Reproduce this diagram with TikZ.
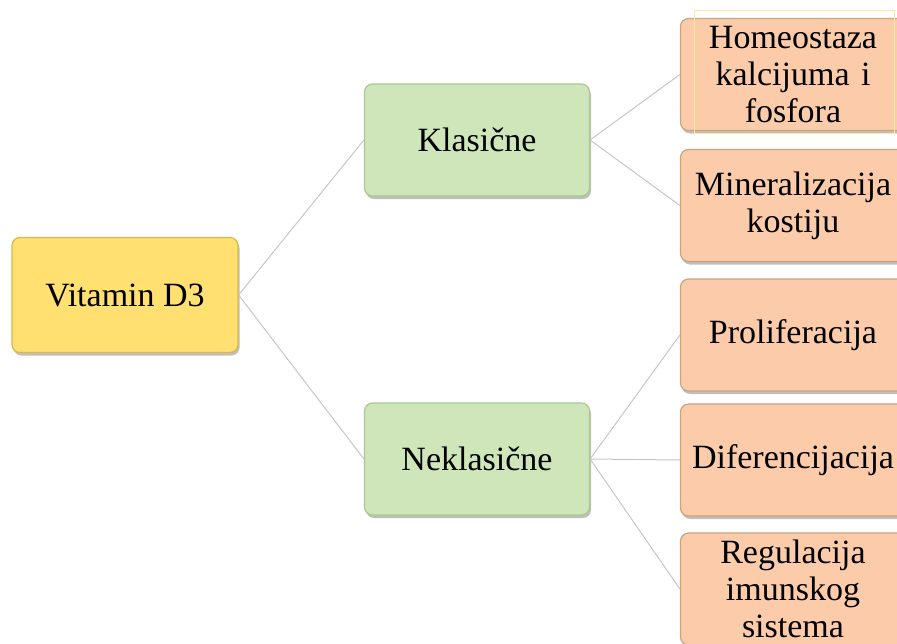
\documentclass[tikz,border=0pt]{standalone}
\usepackage{fontspec}
\setmainfont{Liberation Serif}
\usetikzlibrary{shadows}
\definecolor{zuta}{HTML}{FFE071}
\definecolor{zutarub}{HTML}{D9B84A}
\definecolor{zelena}{HTML}{CEE6BA}
\definecolor{zelenarub}{HTML}{A9C98F}
\definecolor{narandz}{HTML}{FCCCAA}
\definecolor{narandzrub}{HTML}{C9A47E}
\definecolor{veza}{HTML}{C6C6C6}
\definecolor{okvir}{HTML}{FFE9A0}
\begin{document}
\begin{tikzpicture}[x=1pt,y=-1pt,
	kutija/.style={rounded corners=8pt,line width=1.2pt,minimum width=225pt,minimum height=112pt,
		align=center,inner sep=2pt,font=\fontsize{34}{37}\selectfont,
		drop shadow={shadow xshift=1.5pt,shadow yshift=-3pt,fill=black,opacity=0.25}},
	koren/.style={kutija,draw=zutarub,fill=zuta,minimum width=226pt,minimum height=115pt},
	grana/.style={kutija,draw=zelenarub,fill=zelena},
	list/.style={kutija,draw=narandzrub,fill=narandz,text width=220pt},
	veza/.style={draw=veza,line width=1pt}]
	\path[use as bounding box,clip] (0,0) rectangle (897,643);
	% cvorovi
	\node[koren] (vd) at (125,295) {Vitamin D3};
	\node[grana] (kl) at (477,140) {Klasi\v{c}ne};
	\node[grana] (nk) at (477,459) {Neklasi\v{c}ne};
	\node[list] (ho) at (793,74.5) {Homeostaza\\kalcijuma i\\fosfora};
	\node[list] (mi) at (793,205.5) {Mineralizacija\\kostiju};
	\node[list] (pr) at (793,335) {Proliferacija};
	\node[list] (di) at (793,460) {Diferencijacija};
	\node[list] (re) at (793,589) {Regulacija\\imunskog\\sistema};
	% veze
	\foreach \a/\b in {vd/kl,vd/nk,kl/ho,kl/mi,nk/pr,nk/di,nk/re}
	\draw[veza] (\a.east)--(\b.west);
	\draw[draw=okvir,line width=0.8pt] (694,10) rectangle (894,133);
\end{tikzpicture}
\end{document}
